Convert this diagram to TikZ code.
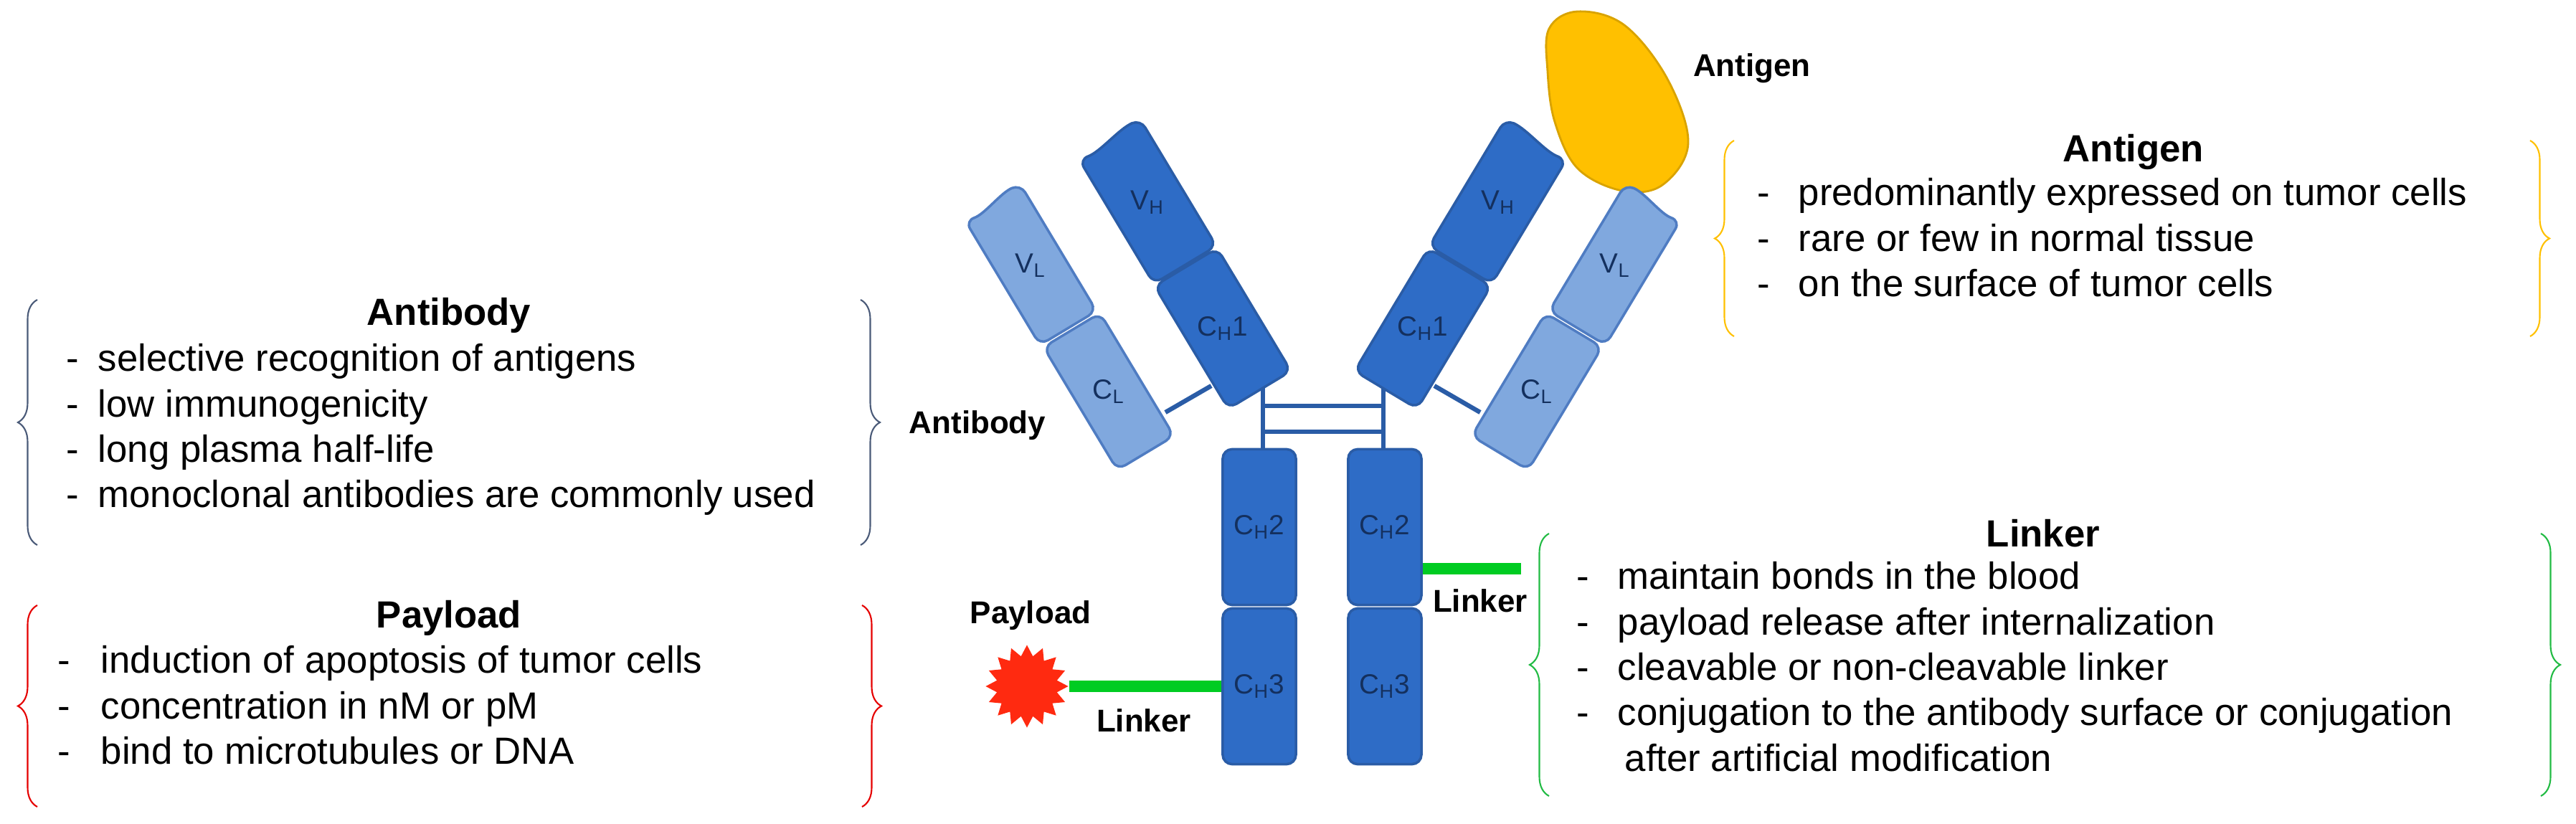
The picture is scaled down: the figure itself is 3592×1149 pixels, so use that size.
\documentclass[tikz,border=0pt]{standalone}
\usepackage{fontspec}
\setmainfont{Liberation Sans}
\usetikzlibrary{shapes.geometric,decorations.pathreplacing}
\definecolor{hblue}{HTML}{2E6CC6}
\definecolor{hline}{HTML}{2A5CA6}
\definecolor{lblue}{HTML}{80A8DE}
\definecolor{lline}{HTML}{4F7CC2}
\definecolor{navy}{HTML}{14305E}
\definecolor{agold}{HTML}{FFC000}
\definecolor{lgreen}{HTML}{00CC22}
\definecolor{bgreen}{HTML}{22BB44}
\definecolor{bslate}{HTML}{4A5A78}
\definecolor{pred}{HTML}{FF2A10}
\tikzset{
 hfill/.style={fill=hblue,draw=hline,line width=1pt,rounded corners=0.13cm},
 lfill/.style={fill=lblue,draw=lline,line width=1pt,rounded corners=0.13cm},
 hbox/.style={hfill,rectangle,minimum width=1.02cm,minimum height=2.17cm},
 lab/.style={text=navy,font=\fontsize{11}{13}\selectfont,inner sep=0},
 blab/.style={font=\bfseries\fontsize{12.5}{15}\selectfont,inner sep=0},
 ttl/.style={font=\bfseries\fontsize{15}{18}\selectfont,inner sep=0},
 body/.style={font=\fontsize{15}{18}\selectfont,inner sep=0,align=left,anchor=north west},
 hinge/.style={draw=hline,line width=1.8pt},
 link/.style={draw=lgreen,line width=4.5pt},
 brc/.style={decorate,decoration={brace,amplitude=0.27cm},line width=0.6pt}
}
\newcommand\armdraw[1]{%
 \begin{scope}[shift={(1984,458)},rotate=59]
  \draw[hfill] (-100,-51) rectangle (100,51);
 \end{scope}
 \begin{scope}[shift={(2089,282)},rotate=59]
  \draw[hfill] (-102,-51) -- (-102,51) -- (100,51) .. controls (94,20) and (108,-18) .. (104,-51) -- cycle;
 \end{scope}
 \begin{scope}[shift={(2143,546)},rotate=59]
  \draw[lfill] (-100,-46) rectangle (100,46);
 \end{scope}
 \begin{scope}[shift={(2252,370)},rotate=59]
  \draw[lfill] (-102,-46) -- (-102,46) -- (100,46) .. controls (94,18) and (108,-16) .. (104,-46) -- cycle;
 \end{scope}
 \coordinate (#1a) at (2000,538);
 \coordinate (#1b) at (2064,575);
 \draw[hinge] (#1a) -- (#1b);
 \node[lab] (#1ch1) at (1984,458) {C\textsubscript{H}1};
 \node[lab] (#1vh) at (2089,282) {V\textsubscript{H}};
 \node[lab] (#1cl) at (2143,546) {C\textsubscript{L}};
 \node[lab] (#1vl) at (2252,370) {V\textsubscript{L}};
}
\begin{document}
\begin{tikzpicture}[x=0.01cm,y=-0.01cm]
\useasboundingbox (0,0) rectangle (3592,1149);
% antigen
\draw[fill=agold,draw=agold!85!black,line width=0.8pt] plot[smooth cycle,tension=0.6] coordinates
 {(2160,40) (2200,16) (2265,35) (2325,110) (2354,200) (2318,258) (2262,266) (2200,235) (2168,170) (2158,100)};
\node[blab] (antlab) at (2443,95) {Antigen};
% hinge
\coordinate (h1) at (1761,540); \coordinate (h1b) at (1761,628);
\coordinate (h2) at (1929,540); \coordinate (h2b) at (1929,628);
\coordinate (h3) at (1761,566); \coordinate (h3b) at (1929,566);
\coordinate (h4) at (1761,602); \coordinate (h4b) at (1929,602);
\draw[hinge] (h1)--(h1b); \draw[hinge] (h2)--(h2b);
\draw[hinge] (h3)--(h3b); \draw[hinge] (h4)--(h4b);
% arms
\armdraw{r}
\begin{scope}[shift={(3689,0)},xscale=-1]
\armdraw{l}
\end{scope}
% Fc
\node[hbox] (lch2) at (1756,735) {};
\node[hbox] (lch3) at (1756,957) {};
\node[hbox] (rch2) at (1931,735) {};
\node[hbox] (rch3) at (1931,957) {};
\node[lab] at (lch2) {C\textsubscript{H}2};
\node[lab] at (lch3) {C\textsubscript{H}3};
\node[lab] at (rch2) {C\textsubscript{H}2};
\node[lab] at (rch3) {C\textsubscript{H}3};
% linkers and payload
\node[star,star points=16,star point ratio=1.35,fill=pred,minimum size=1.15cm,inner sep=0] (star) at (1432,957) {};
\draw[link] (star.east) -- (lch3.west);
\coordinate (rlend) at (2121,793);
\draw[link] (rch2.east |- rlend) -- (rlend);
\node[blab] (paylab) at (1437,858) {Payload};
\node[blab] (linkl) at (1595,1005) {Linker};
\node[blab] (linkr) at (2064,838) {Linker};
\node[blab] (ablab) at (1363,593) {Antibody};
% Antibody box
\node[ttl] (t1) at (626,440) {Antibody};
\node[body] (b1) at (92,479) {\makebox[0.44cm][l]{-}selective recognition of antigens\\\makebox[0.44cm][l]{-}low immunogenicity\\\makebox[0.44cm][l]{-}long plasma half-life\\\makebox[0.44cm][l]{-}monoclonal antibodies are commonly used};
\draw[brc,draw=bslate] (52,760) -- (52,418);
\draw[brc,draw=bslate] (1200,418) -- (1200,760);
% Payload box
\node[ttl] (t2) at (626,862) {Payload};
\node[body] (b2) at (80,900) {\makebox[0.6cm][l]{-}induction of apoptosis of tumor cells\\\makebox[0.6cm][l]{-}concentration in nM or pM\\\makebox[0.6cm][l]{-}bind to microtubules or DNA};
\draw[brc,draw=red!90!black] (52,1125) -- (52,844);
\draw[brc,draw=red!90!black] (1202,844) -- (1202,1125);
% Antigen box
\node[ttl] (t3) at (2975,212) {Antigen};
\node[body] (b3) at (2450,248) {\makebox[0.57cm][l]{-}predominantly expressed on tumor cells\\\makebox[0.57cm][l]{-}rare or few in normal tissue\\\makebox[0.57cm][l]{-}on the surface of tumor cells};
\draw[brc,draw=agold] (2418,469) -- (2418,196);
\draw[brc,draw=agold] (3528,196) -- (3528,469);
% Linker box
\node[ttl] (t4) at (2849,744) {Linker};
\node[body] (b4) at (2198,783) {\makebox[0.57cm][l]{-}maintain bonds in the blood\\\makebox[0.57cm][l]{-}payload release after internalization\\\makebox[0.57cm][l]{-}cleavable or non-cleavable linker\\\makebox[0.57cm][l]{-}conjugation to the antibody surface or conjugation\\\hspace{0.67cm}after artificial modification};
\draw[brc,draw=bgreen] (2160,1110) -- (2160,744);
\draw[brc,draw=bgreen] (3543,744) -- (3543,1110);
\end{tikzpicture}
\end{document}
